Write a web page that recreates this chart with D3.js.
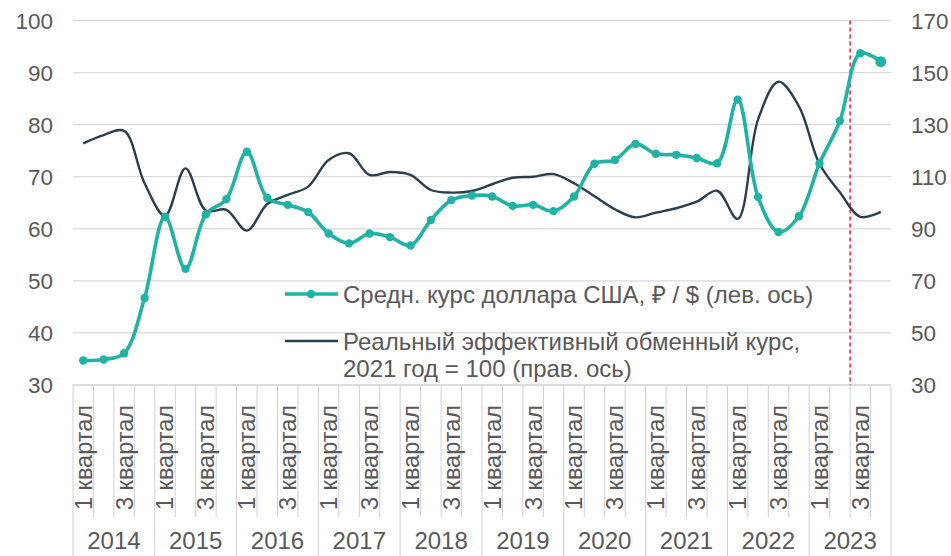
<!DOCTYPE html>
<html>
<head>
<meta charset="utf-8">
<script src="https://cdn.jsdelivr.net/npm/d3@7"></script>
<style>
  body { margin: 0; background: #fff; }
  text { font-family: "Liberation Sans", Arial, sans-serif; fill: #595959; }
</style>
</head>
<body>
<script>
'use strict';

const WIDTH = 951;
const HEIGHT = 556;

const YEARS = [2014, 2015, 2016, 2017, 2018, 2019, 2020, 2021, 2022, 2023];
const QUARTER_LABELS = ['1 квартал', '', '3 квартал', ''];

// Average USD/RUB per quarter (left axis).
const USD_RUB = [
    34.7, 34.9, 36.1, 46.7,
    62.3, 52.3, 62.8, 65.7,
    74.8, 65.9, 64.6, 63.2,
    59.1, 57.2, 59.1, 58.4,
    56.8, 61.7, 65.5, 66.4,
    66.2, 64.4, 64.6, 63.4,
    66.2, 72.5, 73.2, 76.3,
    74.4, 74.2, 73.6, 72.6,
    84.8, 66.1, 59.4, 62.4,
    72.5, 80.7, 93.7, 92.1
];

// Real effective exchange rate, 2021 = 100 (right axis).
const REER = [
    122.8, 126.0, 127.6, 107.5,
    95.0, 113.2, 97.0, 97.3,
    89.3, 99.5, 103.0, 106.2,
    116.4, 119.0, 110.7, 111.8,
    110.7, 104.9, 103.9, 104.5,
    107.1, 109.6, 110.0, 111.0,
    107.5, 102.5, 97.5, 94.4,
    96.2, 97.9, 100.4, 104.6,
    93.8, 132.0, 146.5, 137.0,
    115.0, 104.0, 94.6, 96.5
];

const LEFT_TICKS = [30, 40, 50, 60, 70, 80, 90, 100];
const RIGHT_TICKS = [30, 50, 70, 90, 110, 130, 150, 170];

const LEGEND_USD = 'Средн. курс доллара США, ₽ / $ (лев. ось)';
const LEGEND_REER = ['Реальный эффективный обменный курс,', '2021 год = 100 (прав. ось)'];

const GREEN = '#20B2A5';
const DARK = '#2C3E4B';
const GRID = '#D9D9D9';
const AXIS_LINE = '#D0D0D0';

const PLOT_LEFT = 73;
const PLOT_RIGHT = 891;
const PLOT_TOP = 20.5;
const PLOT_BOTTOM = 385;

function main() {
    const svg = d3.select('body')
            .append('svg')
            .attr('width', WIDTH)
            .attr('height', HEIGHT);

    const quarters = [];
    YEARS.forEach(function(year) {
        QUARTER_LABELS.forEach(function(label, q) {
            quarters.push({key: `${year}-${q + 1}`, year: year, q: q, label: label});
        });
    });

    const x = d3.scaleBand()
            .domain(quarters.map(d => d.key))
            .range([PLOT_LEFT, PLOT_RIGHT]);

    const yLeft = d3.scaleLinear()
            .domain([30, 100])
            .range([PLOT_BOTTOM, PLOT_TOP]);

    const yRight = d3.scaleLinear()
            .domain([30, 170])
            .range([PLOT_BOTTOM, PLOT_TOP]);

    const cx = key => x(key) + x.bandwidth() / 2;

    // Horizontal gridlines.
    svg.append('g')
            .selectAll('line')
            .data(LEFT_TICKS.slice(1))
            .enter()
            .append('line')
            .attr('x1', PLOT_LEFT)
            .attr('x2', PLOT_RIGHT)
            .attr('y1', d => yLeft(d))
            .attr('y2', d => yLeft(d))
            .style('stroke', GRID)
            .style('stroke-width', 1.3);

    // Left axis labels.
    svg.append('g')
            .selectAll('text')
            .data(LEFT_TICKS)
            .enter()
            .append('text')
            .attr('x', 53)
            .attr('y', d => yLeft(d))
            .attr('dy', '0.36em')
            .attr('text-anchor', 'end')
            .style('font-size', '22.5px')
            .text(d => d);

    // Right axis labels.
    svg.append('g')
            .selectAll('text')
            .data(RIGHT_TICKS)
            .enter()
            .append('text')
            .attr('x', 911)
            .attr('y', d => yRight(d))
            .attr('dy', '0.36em')
            .attr('text-anchor', 'start')
            .style('font-size', '22.5px')
            .text(d => d);

    // Category axis: baseline and tick separators.
    svg.append('line')
            .attr('x1', PLOT_LEFT)
            .attr('x2', PLOT_RIGHT)
            .attr('y1', PLOT_BOTTOM)
            .attr('y2', PLOT_BOTTOM)
            .style('stroke', AXIS_LINE)
            .style('stroke-width', 1.3);

    const boundaries = quarters.map(d => x(d.key)).concat([PLOT_RIGHT]);
    svg.append('g')
            .selectAll('line')
            .data(boundaries)
            .enter()
            .append('line')
            .attr('x1', d => d)
            .attr('x2', d => d)
            .attr('y1', PLOT_BOTTOM)
            .attr('y2', (d, i) => (i % 4 === 0) ? HEIGHT : 517)
            .style('stroke', AXIS_LINE)
            .style('stroke-width', 1);

    // Quarter labels (rotated).
    svg.append('g')
            .selectAll('text')
            .data(quarters.filter(d => d.label))
            .enter()
            .append('text')
            .attr('transform', d => `translate(${cx(d.key)}, 510) rotate(-90)`)
            .attr('dy', '0.36em')
            .attr('text-anchor', 'start')
            .style('font-size', '23.5px')
            .text(d => d.label);

    // Year labels.
    svg.append('g')
            .selectAll('text')
            .data(YEARS)
            .enter()
            .append('text')
            .attr('x', d => (x(`${d}-1`) + x(`${d}-4`) + x.bandwidth()) / 2)
            .attr('y', 549)
            .attr('text-anchor', 'middle')
            .style('font-size', '24px')
            .text(d => d);

    // Red dashed marker between 2023 Q2 and Q3.
    svg.append('line')
            .attr('x1', x('2023-3'))
            .attr('x2', x('2023-3'))
            .attr('y1', PLOT_TOP)
            .attr('y2', PLOT_BOTTOM)
            .style('stroke', '#E3001B')
            .style('stroke-width', 1.3)
            .style('stroke-dasharray', '4,3');

    const reerLine = d3.line()
            .x((d, i) => cx(quarters[i].key))
            .y(d => yRight(d))
            .curve(d3.curveCatmullRom.alpha(0.5));

    const usdLine = d3.line()
            .x((d, i) => cx(quarters[i].key))
            .y(d => yLeft(d))
            .curve(d3.curveCatmullRom.alpha(0.5));

    svg.append('path')
            .datum(REER)
            .attr('d', reerLine)
            .style('fill', 'none')
            .style('stroke', DARK)
            .style('stroke-width', 2.4);

    svg.append('path')
            .datum(USD_RUB)
            .attr('d', usdLine)
            .style('fill', 'none')
            .style('stroke', GREEN)
            .style('stroke-width', 3.6);

    svg.append('g')
            .selectAll('circle')
            .data(USD_RUB)
            .enter()
            .append('circle')
            .attr('cx', (d, i) => cx(quarters[i].key))
            .attr('cy', d => yLeft(d))
            .attr('r', (d, i) => i === USD_RUB.length - 1 ? 5.5 : 4.2)
            .style('fill', GREEN);

    // Legend.
    const legend = svg.append('g');
    legend.append('line')
            .attr('x1', 285).attr('x2', 338)
            .attr('y1', 294).attr('y2', 294)
            .style('stroke', GREEN)
            .style('stroke-width', 3.6);
    legend.append('circle')
            .attr('cx', 311).attr('cy', 294).attr('r', 4.2)
            .style('fill', GREEN);
    legend.append('text')
            .attr('x', 343).attr('y', 294)
            .attr('dy', '0.36em')
            .style('font-size', '24px')
            .text(LEGEND_USD);
    legend.append('line')
            .attr('x1', 285).attr('x2', 338)
            .attr('y1', 341).attr('y2', 341)
            .style('stroke', DARK)
            .style('stroke-width', 2.4);
    legend.selectAll('text.reer')
            .data(LEGEND_REER)
            .enter()
            .append('text')
            .attr('class', 'reer')
            .attr('x', 343)
            .attr('y', (d, i) => 341 + i * 27.5)
            .attr('dy', '0.36em')
            .style('font-size', '24px')
            .text(d => d);
}

document.addEventListener('DOMContentLoaded', function() {
    main();
});
</script>
</body>
</html>
